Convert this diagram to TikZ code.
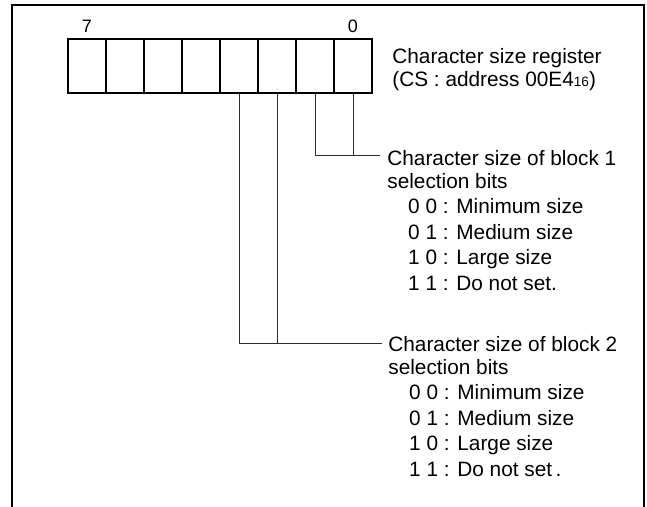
\documentclass[tikz,border=0pt]{standalone}
\usepackage{fontspec}
\setmainfont{Liberation Sans}
\usetikzlibrary{positioning}
\definecolor{mydark}{RGB}{45,45,45}
\newcommand{\optindent}{\hspace*{1em}}
\newcommand{\subsz}[1]{{\fontsize{6.8}{7}\selectfont #1}}
\tikzset{
  cell/.style={rectangle, draw=black, minimum width=19pt, minimum height=27pt,
    inner sep=0pt, outer sep=0pt, line width=1pt},
  bitnum/.style={inner sep=0pt, font=\fontsize{9}{9}\selectfont},
  note/.style={anchor=north west, align=left, inner sep=0pt,
    font=\fontsize{10.4}{11.5}\selectfont},
  wire/.style={line width=0.5pt, color=mydark},
  frame/.style={line width=1.1pt, color=black}
}

\begin{document}
\begin{tikzpicture}[x=0.5pt, y=-0.5pt]
  \useasboundingbox (0,0) rectangle (647,507);
  \draw[frame] (12,507) -- (12,5) -- (644,5) -- (644,507);
  % register cells, bit 7 .. bit 0
  \node[cell, anchor=north west] (b7) at (68,39) {};
  \node[cell, right=0pt of b7] (b6) {};
  \node[cell, right=0pt of b6] (b5) {};
  \node[cell, right=0pt of b5] (b4) {};
  \node[cell, right=0pt of b4] (b3) {};
  \node[cell, right=0pt of b3] (b2) {};
  \node[cell, right=0pt of b2] (b1) {};
  \node[cell, right=0pt of b1] (b0) {};
  \node[bitnum, above=3pt of b7] (n7) {7};
  \node[bitnum, above=3pt of b0] (n0) {0};
  \node[note] (reg) at (392,48) {Character size register\\(CS : address 00E4\subsz{16})};
  % bit fields
  \coordinate (e1) at (380,156);
  \coordinate (e2) at (382,344);
  \node[note] (blk1) at (387,150) {Character size of block 1\\selection bits\\[1.2pt]
    \optindent 0 0 : Minimum size\\[1.2pt]
    \optindent 0 1 : Medium size\\[1.2pt]
    \optindent 1 0 : Large size\\[1.2pt]
    \optindent 1 1 : Do not set.};
  \node[note] (blk2) at (388,336) {Character size of block 2\\selection bits\\[1.2pt]
    \optindent 0 0 : Minimum size\\[1.2pt]
    \optindent 0 1 : Medium size\\[1.2pt]
    \optindent 1 0 : Large size\\[1.2pt]
    \optindent 1 1 : Do not set\,.};
  \draw[wire] (b1.south) |- (e1);
  \draw[wire] (b0.south) -- (b0.south |- e1);
  \draw[wire] (b3.south) |- (e2);
  \draw[wire] (b2.south) -- (b2.south |- e2);
\end{tikzpicture}
\end{document}
